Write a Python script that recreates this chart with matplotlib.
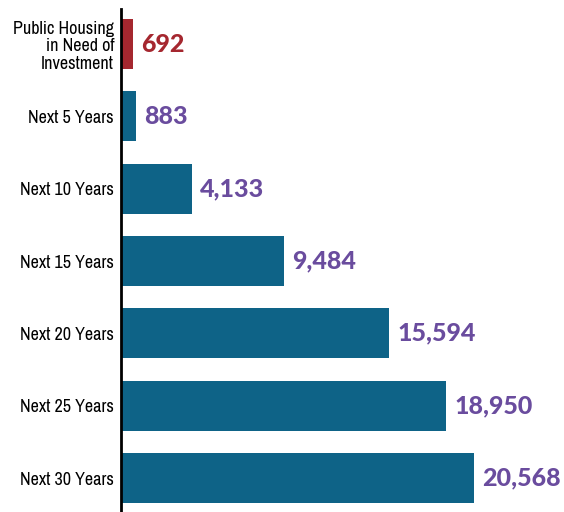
import matplotlib
matplotlib.use("Agg")
import matplotlib.pyplot as plt

categories = ["Public Housing\nin Need of\nInvestment", "Next 5 Years", "Next 10 Years",
              "Next 15 Years", "Next 20 Years", "Next 25 Years", "Next 30 Years"]
values = [692, 883, 4133, 9484, 15594, 18950, 20568]

RED = "#a5272f"
TEAL = "#0e6387"
PURPLE = "#6a4c9e"

fig = plt.figure(figsize=(5.64, 5.12), dpi=100)
ax = fig.add_axes([121 / 564, 0, 1 - 121 / 564, 1 - 9 / 512])

colors = [RED] + [TEAL] * (len(values) - 1)
ypos = list(range(len(values)))
ax.barh(ypos, values, height=0.69, color=colors)

ax.set_xlim(0, 25800)
ax.set_ylim(6.47, -0.484)

for y, v, c in zip(ypos, values, colors):
    txt_color = RED if c == RED else PURPLE
    ax.annotate(f"{v:,}", (v, y), xytext=(6, 0), textcoords="offset points",
                va="center", ha="left", fontsize=18, fontweight=900,
                color=txt_color, family=["Lato", "DejaVu Sans"])

ax.set_yticks(ypos)
ax.set_yticklabels(categories, fontsize=13, family=["Archivo Narrow", "DejaVu Sans"],
                   linespacing=1.15)
ax.tick_params(axis="y", length=0, pad=5)
ax.set_xticks([])
for side in ["top", "right", "bottom"]:
    ax.spines[side].set_visible(False)
ax.spines["left"].set_linewidth(2)

fig.savefig("out.png", dpi=100)
